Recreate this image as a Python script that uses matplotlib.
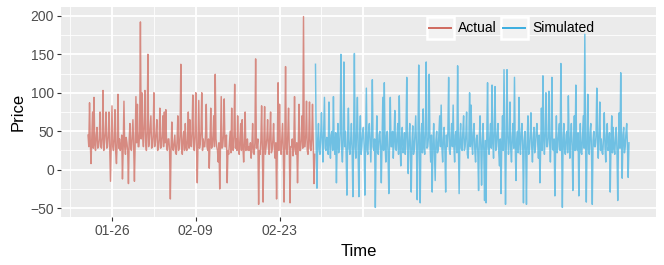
import matplotlib
matplotlib.use("Agg")
import numpy as np
import pandas as pd
import matplotlib.pyplot as plt
import matplotlib.dates as mdates
from matplotlib.ticker import MultipleLocator
from matplotlib.legend_handler import HandlerBase
from matplotlib.patches import Rectangle
from matplotlib.lines import Line2D

# precios observados, cada 3 horas desde 2020-01-22 (una fila = un dia)
actual = [
    45, 30, 87, 35, 8, 40, 75, 28,
    94, 32, 25, 45, 55, 28, 30, 40,
    75, 30, 28, 42, 103, 25, 35, 48,
    75, 28, 30, 45, 75, 30, -15, 35,
    83, 30, 25, 40, 78, 22, 8, 38,
    98, 28, 40, 25, 30, 45, -12, 30,
    89, 30, 20, 42, 35, 25, -18, 40,
    60, 28, 25, 45, 65, 30, -15, 35,
    95, 35, 85, 30, 30, 50, 192, 40,
    100, 45, 30, 60, 103, 35, 25, 50,
    150, 30, 40, 55, 70, 28, 30, 45,
    100, 30, 35, 48, 65, 25, 28, 40,
    80, 28, 30, 45, 70, 30, 75, 35,
    78, 30, 25, 40, 40, 25, -38, 30,
    62, 28, 25, 35, 45, 22, 20, 38,
    70, 25, 30, 45, 137, 28, 20, 40,
    50, 25, 60, 30, 25, 40, 75, 28,
    65, 35, 30, 50, 97, 30, 25, 45,
    100, 30, -17, 40, 90, 28, 35, 50,
    100, 25, 40, 30, 30, 45, 85, 30,
    25, 40, 2, 35, 80, 28, 30, 45,
    70, 30, 124, 40, 30, 25, 10, 35,
    -25, 30, 95, 28, 30, 45, 92, 30,
    30, 45, -17, 25, 20, 35, 50, 22,
    80, 30, 25, 45, 111, 28, 40, 25,
    70, 28, 20, 40, 60, 25, 65, 30,
    10, 35, 75, 25, 30, 40, 25, 30,
    25, 35, 15, 30, 60, 22, 20, 35,
    144, 28, 30, 40, -45, 25, 20, 38,
    83, 25, -42, 35, 82, 20, 30, 40,
    65, 30, 20, 45, 75, 22, 25, 38,
    60, 28, 15, 35, -38, 30, 113, 25,
    85, 30, 20, 40, 60, 25, -42, 35,
    134, 28, 20, 45, 80, 25, -43, 30,
    30, 40, 18, 30, 95, 25, 20, 35,
    -17, 30, 85, 25, 25, 40, 70, 28,
    199, 30, 30, 45, 89, 25, 20, 40,
    88, 28, 25, 40, 85, 30, -18, 20,
]

# precios simulados, cada 3 horas desde 2020-02-29 (una fila = un dia)
simulated = [
    137, 30, -24, 40, 60, 25, 20, 45,
    74, 35, 10, 50, 94, 28, 25, 42,
    40, 20, 88, 35, 15, 45, 50, 25,
    95, 30, 20, 48, -17, 35, 60, 22,
    30, 50, 150, 25, 10, 40, 140, 30,
    50, 20, -33, 45, 80, 28, 20, 38,
    60, 25, -35, 40, 151, 30, 15, 50,
    94, 22, -35, 45, 70, 20, 30, 48,
    55, 30, -33, 42, 106, 25, 20, 50,
    60, 35, 10, 48, 117, 30, 25, 40,
    -49, 30, 70, 22, 20, 45, 50, 28,
    -17, 40, 94, 25, 113, 35, 10, 45,
    50, 20, -31, 38, 94, 30, 30, 50,
    15, 40, 77, 28, 25, 45, 60, 20,
    96, 35, 5, 42, 55, 22, 30, 48,
    20, 45, 120, 30, -5, 38, 60, 25,
    -29, 35, 57, 20, 25, 48, 70, 30,
    -39, 40, 136, 25, -43, 45, 60, 22,
    79, 30, 20, 50, 140, 28, 30, 42,
    124, 35, 10, 45, -29, 30, 60, 25,
    -14, 38, 50, 22, 25, 48, 70, 30,
    84, 28, 10, 40, 55, 25, -29, 45,
    30, 50, 120, 25, 20, 42, 60, 30,
    84, 30, 10, 45, 50, 22, 135, 38,
    -31, 40, 60, 28, 25, 50, 70, 25,
    30, 45, 75, 20, 15, 38, 100, 30,
    84, 35, 20, 48, 60, 25, 10, 40,
    45, 22, -27, 42, 70, 30, -20, 35,
    60, 25, -40, 38, -43, 45, 113, 30,
    20, 42, 60, 28, 110, 35, 15, 50,
    108, 25, 30, 48, 60, 22, 5, 40,
    -31, 35, 70, 25, 130, 40, -45, 30,
    130, 45, 20, 38, 88, 25, 10, 42,
    60, 28, 120, 30, -14, 40, 50, 22,
    94, 35, 20, 48, 60, 30, -43, 38,
    50, 25, -45, 42, 70, 20, 25, 45,
    74, 30, 10, 40, 55, 22, 30, 50,
    60, 35, 15, 45, -17, 28, 80, 25,
    122, 40, 20, 48, 100, 30, 30, 42,
    102, 35, 10, 45, 120, 28, 25, 40,
    -34, 30, 70, 22, 30, 48, 60, 25,
    138, 35, -49, 40, 60, 25, 20, 45,
    50, 22, 96, 38, 15, 42, 60, 30,
    -27, 40, 70, 25, 110, 35, 25, 48,
    -34, 30, 60, 22, 20, 45, 70, 28,
    176, 35, -42, 40, 98, 25, 20, 50,
    60, 22, -45, 38, 50, 30, 30, 45,
    106, 35, 15, 48, 88, 25, 40, 22,
    20, 42, 74, 30, 10, 45, 60, 25,
    30, 48, -29, 35, 70, 22, 55, 30,
    20, 40, 55, 25, -40, 38, 74, 28,
    126, 35, -11, 45, 55, 22, 30, 48,
    60, 30, -10, 35,
]

etiquetas_x = ["01-26", "02-09", "02-23"]
fechas_x = pd.to_datetime(["2020-01-26", "2020-02-09", "2020-02-23"])
rejilla_mayor = pd.to_datetime(["2020-01-26", "2020-02-09", "2020-02-23", "2020-03-08"])
rejilla_menor = pd.to_datetime(["2020-01-19", "2020-02-02", "2020-02-16", "2020-03-01"])

t_actual = pd.date_range("2020-01-22", periods=len(actual), freq="3h")
t_sim = pd.date_range("2020-02-29", periods=len(simulated), freq="3h")

COLOR_ACT = "#D06A5E"
COLOR_SIM = "#3AAEE0"


class ClaveGG(HandlerBase):
    """Clave de leyenda al estilo ggplot: caja gris con borde blanco y linea."""
    def create_artists(self, legend, orig_handle, xdescent, ydescent,
                       width, height, fontsize, trans):
        caja = Rectangle((-xdescent, -ydescent), width, height,
                         facecolor="#F2F2F2", edgecolor="white", lw=1.8,
                         transform=trans)
        y = -ydescent + height / 2
        linea = Line2D([-xdescent + width * 0.1, -xdescent + width * 0.9], [y, y],
                       color=orig_handle.get_color(), lw=1.4, transform=trans)
        return [caja, linea]


plt.rcParams["font.family"] = ["Liberation Sans", "DejaVu Sans"]

fig = plt.figure(figsize=(6.64, 2.65), dpi=100)
ax = fig.add_axes([61 / 664, 1 - 217 / 265, 595 / 664, 210 / 265])
ax.set_facecolor("#EBEBEB")
for s in ax.spines.values():
    s.set_visible(False)

# rejilla
for f in rejilla_menor:
    ax.axvline(f, color="white", lw=0.6, zorder=0.5)
for f in rejilla_mayor:
    ax.axvline(f, color="white", lw=1.3, zorder=0.6)
ax.yaxis.set_major_locator(MultipleLocator(50))
ax.yaxis.set_minor_locator(MultipleLocator(25))
ax.grid(axis="y", which="major", color="white", lw=1.3)
ax.grid(axis="y", which="minor", color="white", lw=0.6)
ax.set_axisbelow(True)

ax.plot(t_actual, actual, color=COLOR_ACT, alpha=0.75, lw=1.05, zorder=2)
ax.plot(t_sim, simulated, color=COLOR_SIM, alpha=0.7, lw=1.05, zorder=2)

# limites con la expansion de 5% de ggplot
todos = np.array(actual + simulated)
rango = todos.max() - todos.min()
ax.set_ylim(todos.min() - 0.05 * rango, todos.max() + 0.05 * rango)
x0 = mdates.date2num(t_actual[0])
x1 = mdates.date2num(t_sim[-1])
ax.set_xlim(x0 - 0.05 * (x1 - x0), x1 + 0.05 * (x1 - x0))

ax.set_xticks(fechas_x)
ax.set_xticklabels(etiquetas_x)
ax.tick_params(axis="both", which="major", length=3.2, width=0.8, color="#333333",
               labelsize=10, labelcolor="#4D4D4D", pad=2)
ax.tick_params(axis="y", which="minor", length=0)

ax.set_xlabel("Time", fontsize=12, labelpad=4)
ax.set_ylabel("Price", fontsize=12, labelpad=3)

h_act = Line2D([], [], color=COLOR_ACT)
h_sim = Line2D([], [], color=COLOR_SIM)
ax.legend([h_act, h_sim], ["Actual", "Simulated"], ncol=2, loc="center",
          bbox_to_anchor=(0.755, 0.9), frameon=False, fontsize=10,
          handler_map={Line2D: ClaveGG()}, handlelength=1.95, handleheight=2.0,
          handletextpad=0.3, columnspacing=0.3, borderpad=0, borderaxespad=0)

fig.savefig("out.png", dpi=100)
